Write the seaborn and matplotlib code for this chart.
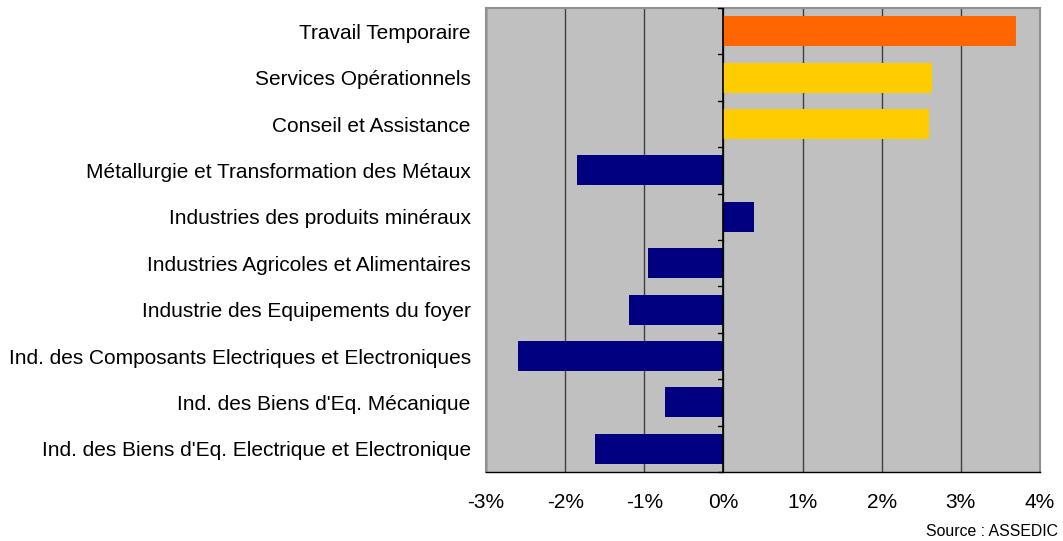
import numpy as np
import matplotlib.pyplot as plt
import pandas as pd
import seaborn as sns
from matplotlib.ticker import FuncFormatter, MultipleLocator

secteurs = [
    "Travail Temporaire",
    "Services Opérationnels",
    "Conseil et Assistance",
    "Métallurgie et Transformation des Métaux",
    "Industries des produits minéraux",
    "Industries Agricoles et Alimentaires",
    "Industrie des Equipements du foyer",
    "Ind. des Composants Electriques et Electroniques",
    "Ind. des Biens d'Eq. Mécanique",
    "Ind. des Biens d'Eq. Electrique et Electronique",
]
variation = [3.70, 2.63, 2.60, -1.85, 0.39, -0.95, -1.19, -2.60, -0.74, -1.62]
groupe = ["a", "b", "b", "c", "c", "c", "c", "c", "c", "c"]
couleurs = {"a": "#FF6600", "b": "#FFCC00", "c": "#000080"}

df = pd.DataFrame({"secteur": secteurs, "variation": variation, "groupe": groupe})

sns.set_style("white")
plt.rcParams["font.family"] = ["Liberation Sans", "DejaVu Sans"]
plt.rcParams["text.color"] = "black"

fig = plt.figure(figsize=(10.63, 5.41), dpi=100)
ax = fig.add_axes([486 / 1063, 1 - 472 / 541, (1040 - 486) / 1063, (472 - 8) / 541])
ax.set_facecolor("#C0C0C0")

sns.barplot(data=df, x="variation", y="secteur", hue="groupe", palette=couleurs,
            orient="h", width=0.65, dodge=False, legend=False, saturation=1,
            linewidth=0, ax=ax)

ax.set_xlim(-3, 4)
ax.set_ylim(len(secteurs) - 0.5, -0.5)
ax.xaxis.set_major_locator(MultipleLocator(1))
ax.xaxis.set_major_formatter(FuncFormatter(lambda v, p: f"{v:.0f}%"))
ax.grid(axis="x", color="#404040", linewidth=1)
ax.set_axisbelow(True)
ax.set_xlabel("")
ax.set_ylabel("")
ax.tick_params(axis="x", length=6, width=1, color="black", direction="out",
               labelsize=15, labelcolor="black", pad=9)
ax.tick_params(axis="y", length=0, labelsize=15, labelcolor="black", pad=11)

# zero axis with tick marks between categories
ax.axvline(0, color="black", linewidth=1.2, zorder=3)
for b in np.arange(-0.5, len(secteurs), 1.0):
    ax.plot([-0.07, 0], [b, b], color="black", linewidth=1, zorder=3, clip_on=False)

for s in ax.spines.values():
    s.set_color("#909090")
    s.set_linewidth(1.5)
ax.spines["bottom"].set_color("black")
ax.spines["bottom"].set_linewidth(1)

fig.text(1058 / 1063, 1 - 531 / 541, "Source : ASSEDIC", ha="right", va="center",
         fontsize=11.4, color="black")

fig.savefig("out.png", dpi=100)
